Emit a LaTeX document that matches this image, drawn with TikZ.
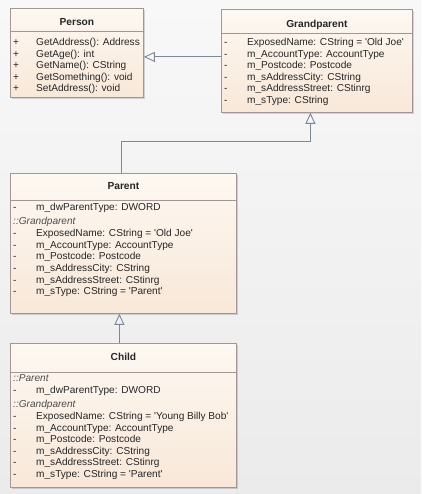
\documentclass[tikz,border=0pt]{standalone}
\usepackage{fontspec}
\newfontfamily\umlfont{Liberation Sans}
\usetikzlibrary{positioning,arrows.meta,shadows}
\definecolor{clsline}{RGB}{165,150,150}
\definecolor{clstop}{RGB}{253,248,242}
\definecolor{clsbot}{RGB}{248,232,216}
\definecolor{conn}{RGB}{125,135,155}
\definecolor{bgtop}{RGB}{248,248,248}
\definecolor{bgbot}{RGB}{235,235,235}
\newcommand{\vis}[1]{\makebox[23pt][l]{#1}}
\newcommand{\grp}[1]{\textcolor{black!70}{\itshape #1}}
\tikzset{
  cls/.style={rectangle,draw=clsline,top color=clstop,bottom color=clsbot,anchor=north west,inner sep=0pt,line width=0.8pt,drop shadow={shadow xshift=2pt,shadow yshift=-2pt,fill=black,opacity=0.15}},
  ttl/.style={font=\umlfont\fontsize{10.2}{12}\selectfont\bfseries,inner sep=0pt,text=black!85},
  mem/.style={anchor=north west,align=left,inner sep=0pt,font=\umlfont\fontsize{10.1}{11.6}\selectfont,text=black!85},
  sep/.style={draw=clsline,line width=0.8pt},
  inh/.style={draw=conn,line width=0.9pt,-{Triangle[open,length=11pt,width=10pt]}}
}
\begin{document}
\begin{tikzpicture}[x=1pt,y=-1pt]
\fill[top color=bgtop,bottom color=bgbot] (0,0) rectangle (421,494);
\node[cls,minimum width=133pt,minimum height=89pt] (person) at (10,8) {};
\node[cls,minimum width=191pt,minimum height=103pt] (grandparent) at (221,9) {};
\node[cls,minimum width=226pt,minimum height=140pt] (parent) at (10,173) {};
\node[cls,minimum width=226pt,minimum height=144pt] (child) at (10,343) {};
\node[ttl,below=10pt of person.north] (personT) {Person};
\node[ttl,below=11pt of grandparent.north] (grandparentT) {Grandparent};
\node[ttl,below=9.5pt of parent.north] (parentT) {Parent};
\node[ttl,below=10pt of child.north] (childT) {Child};
\draw[sep] ([yshift=-23pt]person.north west) -- ([yshift=-23pt]person.north east);
\draw[sep] ([yshift=-24pt]grandparent.north west) -- ([yshift=-24pt]grandparent.north east);
\draw[sep] ([yshift=-27pt]parent.north west) -- ([yshift=-27pt]parent.north east);
\draw[sep] ([yshift=-29pt]child.north west) -- ([yshift=-29pt]child.north east);
\node[mem] (personM) at ([xshift=3pt,yshift=-30pt]person.north west) {\vis{+}GetAddress(): Address\\
  \vis{+}GetAge(): int\\
  \vis{+}GetName(): CString\\
  \vis{+}GetSomething(): void\\
  \vis{+}SetAddress(): void};
\node[mem] (grandparentM) at ([xshift=3pt,yshift=-29pt]grandparent.north west) {\vis{-}ExposedName: CString = 'Old Joe'\\
  \vis{-}m\_AccountType: AccountType\\
  \vis{-}m\_Postcode: Postcode\\
  \vis{-}m\_sAddressCity: CString\\
  \vis{-}m\_sAddressStreet: CStinrg\\
  \vis{-}m\_sType: CString};
\node[mem] (parentM) at ([xshift=3pt,yshift=-30pt]parent.north west) {\vis{-}m\_dwParentType: DWORD\\[2pt]
  \grp{::Grandparent}\\[1pt]
  \vis{-}ExposedName: CString = 'Old Joe'\\
  \vis{-}m\_AccountType: AccountType\\
  \vis{-}m\_Postcode: Postcode\\
  \vis{-}m\_sAddressCity: CString\\
  \vis{-}m\_sAddressStreet: CStinrg\\
  \vis{-}m\_sType: CString = 'Parent'};
\node[mem] (childM) at ([xshift=3pt,yshift=-31pt]child.north west) {\grp{::Parent}\\[1pt]
  \vis{-}m\_dwParentType: DWORD\\[2.5pt]
  \grp{::Grandparent}\\
  \vis{-}ExposedName: CString = 'Young Billy Bob'\\
  \vis{-}m\_AccountType: AccountType\\
  \vis{-}m\_Postcode: Postcode\\
  \vis{-}m\_sAddressCity: CString\\
  \vis{-}m\_sAddressStreet: CStinrg\\
  \vis{-}m\_sType: CString = 'Parent'};
\coordinate (pjoin) at ([yshift=-4pt]person.east);
\draw[inh] (grandparent.west |- pjoin) -- (pjoin);
\draw[inh] ([xshift=-2pt]parent.north) -- ++(0,-32) -| ([xshift=-6.5pt]grandparent.south);
\draw[inh] ([xshift=-4pt]child.north) -- ([xshift=-4pt]parent.south);
\end{tikzpicture}
\end{document}
